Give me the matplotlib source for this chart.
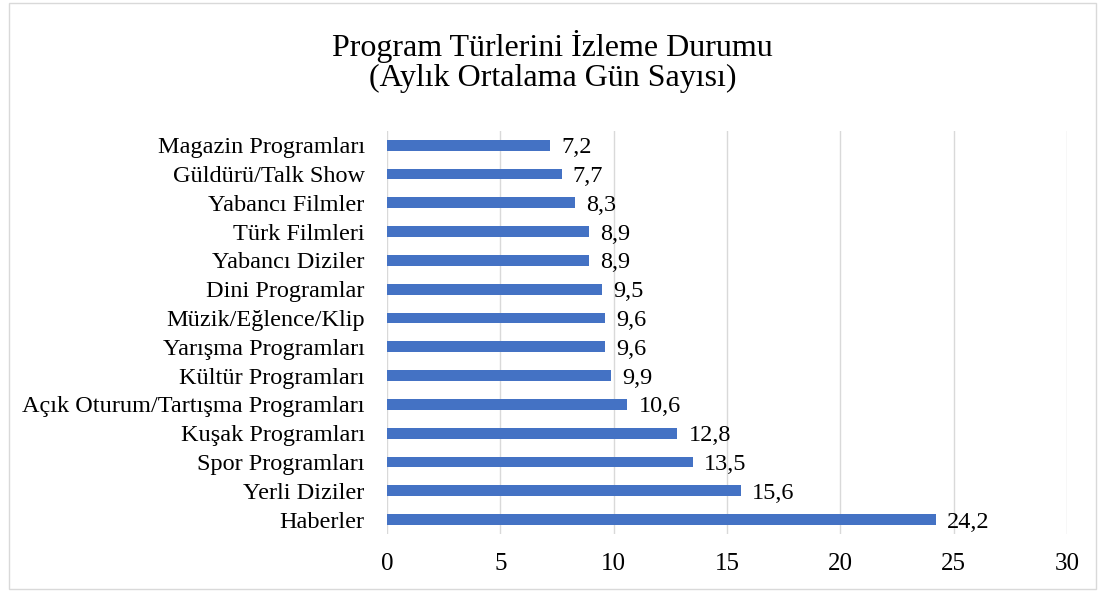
import matplotlib.pyplot as plt
from matplotlib.patches import Rectangle

categories = ["Haberler", "Yerli Diziler", "Spor Programları", "Kuşak Programları",
              "Açık Oturum/Tartışma Programları", "Kültür Programları", "Yarışma Programları",
              "Müzik/Eğlence/Klip", "Dini Programlar", "Yabancı Diziler", "Türk Filmleri",
              "Yabancı Filmler", "Güldürü/Talk Show", "Magazin Programları"]
values = [24.2, 15.6, 13.5, 12.8, 10.6, 9.9, 9.6, 9.6, 9.5, 8.9, 8.9, 8.3, 7.7, 7.2]
xticks = [0, 5, 10, 15, 20, 25, 30]

plt.rcParams['font.family'] = ['Liberation Serif', 'DejaVu Serif']

fig = plt.figure(figsize=(11.05, 5.92), dpi=100)
ax = fig.add_axes([0.3502, 0.098, 0.6154, 0.681])

ypos = range(len(categories))
ax.barh(ypos, values, height=0.38, color="#4472C4", zorder=3)
for y, v in zip(ypos, values):
    ax.text(v + 0.5, y, f"{v:.1f}".replace(".", ","), va="center_baseline", ha="left", fontsize=17.5)

ax.set_xlim(0, 30)
ax.set_ylim(-0.5, len(categories) - 0.5)
ax.set_yticks(list(ypos))
ax.set_yticklabels(categories, fontsize=17.5)
ax.set_xticks(xticks)
ax.set_xticklabels([str(t) for t in xticks], fontsize=18)
ax.tick_params(length=0)
ax.tick_params(axis="y", pad=16)
ax.tick_params(axis="x", pad=14)
ax.grid(axis="x", color="#D9D9D9", linewidth=1, zorder=0)
for s in ax.spines.values():
    s.set_visible(False)

fig.text(0.5, 0.896, "Program Türlerini İzleme Durumu\n(Aylık Ortalama Gün Sayısı)",
         ha="center", va="center", fontsize=23, linespacing=1.05)

fig.patches.append(Rectangle((0.008, 0.005), 0.984, 0.99, transform=fig.transFigure,
                             fill=False, edgecolor="#D9D9D9", linewidth=1))

fig.savefig("out.png", dpi=100)
